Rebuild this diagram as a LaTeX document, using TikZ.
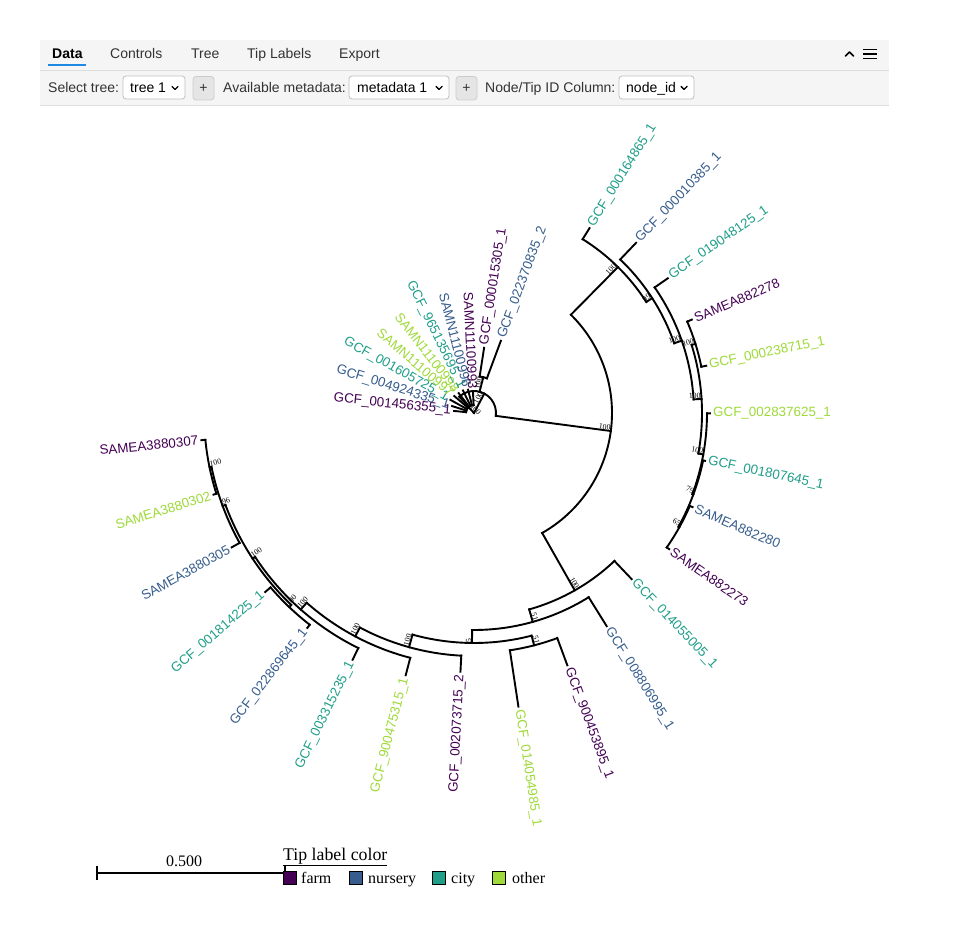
\documentclass[tikz,border=0pt]{standalone}
\usepackage{fontspec}
\setmainfont{Liberation Serif}
\newfontfamily\arial{Liberation Sans}
\definecolor{farm}{HTML}{440154}
\definecolor{nursery}{HTML}{365D8D}
\definecolor{city}{HTML}{1F9E89}
\definecolor{other}{HTML}{9FDA3A}
\definecolor{hdrbg}{HTML}{F5F5F5}
\definecolor{sepc}{HTML}{DDDDDD}
\definecolor{tabblue}{HTML}{1E88E5}
\definecolor{txtc}{HTML}{333333}
\tikzset{
  br/.style={line width=1.9pt, line cap=rect},
  tl/.style={font=\arial\fontsize{13.4}{16}\selectfont, inner sep=0pt},
  sl/.style={font=\fontsize{7.8}{8}\selectfont, inner sep=0.6pt},
  hd/.style={font=\arial\fontsize{14}{17}\selectfont, text=txtc, inner sep=0pt, anchor=base west},
  selbox/.style={draw=black!25, fill=white, rounded corners=3pt, line width=0.8pt},
  plusbtn/.style={draw=black!20, fill=black!10, rounded corners=3pt, line width=0.8pt},
  chev/.style={line width=1.4pt, line cap=round, line join=round},
  lg/.style={font=\fontsize{16}{19}\selectfont, inner sep=0pt, anchor=base west},
}
\newcommand\rad[3]{\draw[br] (#1:#2pt) -- (#1:#3pt);}
\newcommand\tarc[3]{\draw[br] (#1:#3pt) arc[start angle=#1, end angle=#2, radius=#3pt];}
% name, angle, rtip, rfrom, colour, text
\newcommand\tip[6]{%
  \rad{#2}{#4}{#3}%
  \pgfmathsetmacro\rl{#3+3}%
  \pgfmathsetmacro\tmpc{cos(#2)}%
  \ifdim\tmpc pt>0pt
    \node[tl,text=#5,rotate=#2,anchor=west] (#1) at (#2:\rl pt) {#6};%
  \else
    \pgfmathsetmacro\tmpa{#2+180}%
    \node[tl,text=#5,rotate=\tmpa,anchor=east] (#1) at (#2:\rl pt) {#6};%
  \fi}
\newcount\slc
\newcommand\bsl[3]{\global\advance\slc by 1
  \pgfmathsetmacro\tmpc{cos(#1)}%
  \ifdim\tmpc pt>0pt
    \node[sl,rotate=#1,anchor=south east] (s\the\slc) at (#1:#2pt) {#3};%
  \else
    \pgfmathsetmacro\tmpa{#1+180}%
    \node[sl,rotate=\tmpa,anchor=south west] (s\the\slc) at (#1:#2pt) {#3};%
  \fi}
\begin{document}
\begin{tikzpicture}[x=1pt,y=1pt]
\useasboundingbox[fill=white] (0,0) rectangle (960,930);
% ---------- header ----------
\fill[hdrbg] (40,890) rectangle (889,824);
\draw[sepc, line width=1pt] (40,859) -- (889,859);
\draw[sepc, line width=1pt] (40,824) -- (889,824);
\node[hd, text=black, font=\arial\bfseries\fontsize{14}{17}\selectfont] (tdata) at (52,871) {Data};
\fill[tabblue] (48,866) rectangle (86,863.5);
\node[hd] (tctl) at (110,871) {Controls};
\node[hd] (ttree) at (191,871) {Tree};
\node[hd] (ttip) at (247,871) {Tip Labels};
\node[hd] (texp) at (339,871) {Export};
\draw[chev, line width=1.6pt] (845.5,874) -- (849.5,878) -- (853.5,874);
\draw[line width=1.5pt] (863,880.5) -- (877,880.5) (863,876) -- (877,876) (863,871.5) -- (877,871.5);
% row 2
\node[hd] (lsel) at (48,837) {Select tree:};
\draw[selbox] (123,854) rectangle (185,831);
\node[hd, text=black] (vtree) at (130,837) {tree 1};
\draw[chev] (172,843.5) -- (175,840.5) -- (178,843.5);
\draw[plusbtn] (193,853.5) rectangle (214,830);
\node[hd, anchor=center] (p1) at (203.5,841.5) {+};
\node[hd] (lmeta) at (223,837) {Available metadata:};
\draw[selbox] (349,854) rectangle (449,831);
\node[hd, text=black] (vmeta) at (357,837) {metadata 1};
\draw[chev] (436,843.5) -- (439,840.5) -- (442,843.5);
\draw[plusbtn] (456,853.5) rectangle (477,830);
\node[hd, anchor=center] (p2) at (466.5,841.5) {+};
\node[hd] (lnode) at (485,837) {Node/Tip ID Column:};
\draw[selbox] (619,854) rectangle (694,831);
\node[hd, text=black] (vnode) at (626,837) {node\_id};
\draw[chev] (681,843.5) -- (684,840.5) -- (687,843.5);
% ---------- tree ----------
\begin{scope}[shift={(474,517)}]
% root region
\tarc{-7.5}{132}{22}
\rad{62}{0}{22}
\rad{133}{0}{8}
\tarc{92.8}{174.1}{8}
\rad{132}{8}{22}
% big clade
\rad{-7.5}{22}{138}
\tarc{-60.4}{45.4}{138}
\rad{45.4}{138}{205}
\tarc{32.8}{58}{205}
\tip{t0}{58}{218}{205}{city}{GCF\_000164865\_1}
\rad{32.8}{205}{212}
\tarc{19.2}{46.4}{212}
\tip{t1}{46.4}{235}{212}{nursery}{GCF\_000010385\_1}
\rad{19.2}{212}{220}
\tarc{3.55}{34.8}{220}
\tip{t2}{34.8}{236}{220}{city}{GCF\_019048125\_1}
\rad{3.55}{220}{228}
\tarc{-10.25}{17.35}{228}
\rad{17.35}{228}{232}
\tarc{11.5}{23.2}{232}
\tip{t3}{23.2}{237}{232}{farm}{SAMEA882278}
\tip{t4}{11.5}{237}{232}{other}{GCF\_000238715\_1}
\rad{-10.25}{228}{233}
\tarc{-20.4}{-0.1}{233}
\tip{t5}{-0.1}{236}{233}{other}{GCF\_002837625\_1}
\rad{-20.4}{233}{234}
\tarc{-29.1}{-11.7}{234}
\tip{t6}{-11.7}{236}{234}{city}{GCF\_001807645\_1}
\rad{-29.1}{234}{235}
\tarc{-34.9}{-23.3}{235}
\tip{t7}{-23.3}{238}{235}{nursery}{SAMEA882280}
\tip{t8}{-34.9}{238}{235}{farm}{SAMEA882273}
% lower clade
\rad{-60.4}{138}{204}
\tarc{-74.3}{-46.5}{204}
\tip{t9}{-46.5}{229}{204}{city}{GCF\_014055005\_1}
\rad{-74.3}{204}{217}
\tarc{-90.5}{-58.1}{217}
\tip{t10}{-58.1}{251}{217}{nursery}{GCF\_008806995\_1}
\rad{-90.5}{217}{230}
\tarc{-105.5}{-75.5}{230}
\rad{-75.5}{230}{240}
\tarc{-81.4}{-69.7}{240}
\tip{t11}{-69.7}{269}{240}{farm}{GCF\_900453895\_1}
\tip{t12}{-81.4}{297}{240}{other}{GCF\_014054985\_1}
\rad{-105.5}{230}{243}
\tarc{-118}{-93}{243}
\tip{t13}{-93}{259}{243}{farm}{GCF\_002073715\_2}
\rad{-118}{243}{253}
\tarc{-131.4}{-104.6}{253}
\tip{t14}{-104.6}{271}{253}{other}{GCF\_900475315\_1}
\rad{-131.4}{253}{262}
\tarc{-146.65}{-116.2}{262}
\tip{t15}{-116.2}{275}{262}{city}{GCF\_003315235\_1}
\rad{-146.65}{262}{265}
\tarc{-159.7}{-133.6}{265}
\rad{-133.6}{265}{268}
\tarc{-139.4}{-127.8}{268}
\tip{t16}{-127.8}{272}{268}{nursery}{GCF\_022869645\_1}
\tip{t17}{-139.4}{275}{268}{city}{GCF\_001814225\_1}
\rad{-159.7}{265}{268}
\tarc{-168.4}{-151}{268}
\tip{t18}{-151}{277}{268}{nursery}{SAMEA3880305}
\rad{-168.4}{268}{270}
\tarc{-174.3}{-162.6}{270}
\tip{t19}{-162.6}{273}{270}{other}{SAMEA3880302}
\tip{t20}{-174.3}{274}{270}{farm}{SAMEA3880307}
% small clade
\tip{t21}{174.1}{20}{8}{farm}{GCF\_001456355\_1}
\tip{t22}{162.5}{23}{8}{nursery}{GCF\_004924335\_1}
\tip{t23}{150.9}{27}{8}{city}{GCF\_001605725\_1}
\tip{t24}{139.3}{26}{8}{other}{SAMN11100997}
\tip{t25}{127.7}{25}{8}{other}{SAMN11100998}
\tip{t26}{116.1}{25}{8}{city}{GCF\_965135695\_1}
\tip{t27}{104.4}{24}{8}{nursery}{SAMN11100996}
\tip{t28}{92.8}{21}{8}{farm}{SAMN11100993}
\rad{75.4}{22}{37}
\tarc{69.6}{81.2}{37}
\tip{t29}{81.2}{66}{37}{farm}{GCF\_000015305\_1}
\tip{t30}{69.6}{77}{37}{nursery}{GCF\_022370835\_2}
% support values
\bsl{45.4}{205}{100}
\bsl{32.8}{212}{99}
\bsl{19.2}{220}{100}
\bsl{3.55}{228}{100}
\bsl{17.35}{232}{100}
\bsl{-10.25}{233}{100}
\bsl{-20.4}{234}{79}
\bsl{-29.1}{235}{65}
\bsl{-7.5}{138}{100}
\bsl{-60.4}{204}{100}
\bsl{-74.3}{217}{51}
\bsl{-90.5}{230}{5}
\bsl{-75.5}{240}{51}
\bsl{-105.5}{243}{100}
\bsl{-118}{253}{100}
\bsl{-131.4}{262}{100}
\bsl{-146.65}{265}{100}
\bsl{-133.6}{268}{100}
\bsl{-159.7}{268}{96}
\bsl{-168.4}{270}{100}
\bsl{75.4}{37}{100}
\bsl{133}{8}{100}
\bsl{62}{22}{100}
\end{scope}
% ---------- scale bar ----------
\draw[line width=2pt] (97,57) -- (285,57);
\draw[line width=2pt] (97,64) -- (97,50);
\draw[line width=2pt] (285,64) -- (285,50);
\node[lg, anchor=base] (scl) at (184,64) {0.500};
% ---------- legend ----------
\node[lg, font=\fontsize{17.8}{20}\selectfont] (lgt) at (283,70) {\underline{Tip label color}};
\draw[fill=farm, line width=0.8pt] (283,59) rectangle (296,46);
\node[lg] (lg1) at (301,47) {farm};
\draw[fill=nursery, line width=0.8pt] (349,59) rectangle (362,46);
\node[lg] (lg2) at (368,47) {nursery};
\draw[fill=city, line width=0.8pt] (432,59) rectangle (445,46);
\node[lg] (lg3) at (451,47) {city};
\draw[fill=other, line width=0.8pt] (492,59) rectangle (505,46);
\node[lg] (lg4) at (512,47) {other};
\end{tikzpicture}
\end{document}
